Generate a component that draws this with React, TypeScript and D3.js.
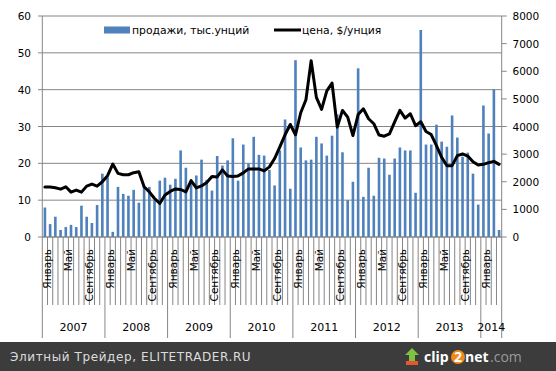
import React from "react";
import * as d3 from "d3";

const years = ["2007", "2008", "2009", "2010", "2011", "2012", "2013", "2014"];
const monthNames = ["Январь", "Февраль", "Март", "Апрель", "Май", "Июнь", "Июль", "Август", "Сентябрь", "Октябрь", "Ноябрь", "Декабрь"];
const shownMonths = ["Январь", "Май", "Сентябрь"];

// Sales, thousand ounces (left axis), Jan 2007 .. Apr 2014
const sales = [
  8.0, 3.5, 5.5, 1.9, 2.7, 3.3, 2.7, 8.5, 5.5, 3.8, 8.7, 17.2,
  16.2, 1.4, 13.6, 11.7, 11.2, 12.8, 9.3, 13.6, 13.6, 10.0, 15.3, 16.1,
  14.2, 15.8, 23.5, 18.8, 15.0, 16.7, 21.0, 15.5, 12.6, 22.0, 19.4, 20.8,
  26.8, 15.3, 25.1, 20.0, 27.2, 22.3, 22.1, 18.2, 14.0, 23.5, 31.9, 13.1,
  48.0, 24.3, 20.8, 21.0, 27.2, 25.4, 22.1, 27.5, 33.3, 23.0, 10.0, 15.0,
  45.8, 10.9, 18.8, 11.2, 21.5, 21.3, 16.9, 21.3, 24.3, 23.5, 23.5, 12.0,
  56.2, 25.1, 25.1, 30.5, 25.9, 24.5, 33.0, 27.0, 21.8, 22.9, 17.2, 8.8,
  35.7, 28.1, 40.1, 1.9,
];

// Price, $/ounce (right axis)
const price = [
  1806, 1806, 1782, 1733, 1818, 1624, 1697, 1624, 1842, 1915, 1842, 2000,
  2218, 2642, 2303, 2254, 2254, 2327, 2363, 1818, 1636, 1394, 1215, 1520,
  1650, 1740, 1720, 1630, 2040, 1777, 1850, 1970, 2188, 2176, 2430, 2212,
  2188, 2212, 2321, 2466, 2466, 2466, 2394, 2539, 2841, 3264, 3700, 4074,
  3700, 4497, 4968, 6383, 5053, 4620, 5290, 5576, 3976, 4582, 4339, 3673,
  4430, 4642, 4280, 4100, 3690, 3648, 3733, 4170, 4582, 4303, 4461, 4030,
  4170, 3818, 3709, 3310, 2885, 2582, 2582, 2946, 3006, 2930, 2727, 2606,
  2630, 2691, 2739, 2630,
];

const leftTicks = [0, 10, 20, 30, 40, 50, 60];
const rightTicks = [0, 1000, 2000, 3000, 4000, 5000, 6000, 7000, 8000];
const legendLabels = ["продажи, тыс.унций", "цена, $/унция"];

const W = 556;
const H = 371;
const FONT = "'DejaVu Sans', Verdana, sans-serif";

export default function App() {
  const n = sales.length;
  const idx = d3.range(n);
  const x0 = 42.3;
  const x1 = 501.7;
  const x = d3.scaleBand<number>().domain(idx).range([x0, x1]).paddingInner(0.5).paddingOuter(0.25);
  const step = x.step();
  const yL = d3.scaleLinear().domain([0, 60]).range([237, 16]);
  const yR = d3.scaleLinear().domain([0, 8000]).range([237, 16]);
  const cx = (i: number) => (x(i) as number) + x.bandwidth() / 2;
  const line = d3
    .line<number>()
    .x((_, i) => cx(i))
    .y((d) => yR(d));

  const boundary = (i: number) => x0 + i * step;
  const bottom = yL(0);

  return (
    <svg width={W} height={H} style={{ position: "absolute", left: 0, top: 0, background: "#fff" }} fontFamily={FONT}>
      <rect x={0} y={0} width={W} height={H} fill="#fff" />
      {/* gridlines */}
      {leftTicks.map((t) => (
        <line key={"g" + t} x1={38} x2={x1} y1={yL(t)} y2={yL(t)} stroke="#868686" strokeWidth={1} />
      ))}
      {/* left axis */}
      <line x1={x0} x2={x0} y1={yL(60)} y2={bottom} stroke="#868686" />
      {leftTicks.map((t) => (
        <text key={"l" + t} x={31} y={yL(t) + 4} textAnchor="end" fontSize={10.5} fill="#000">
          {t}
        </text>
      ))}
      {/* right axis */}
      <line x1={x1} x2={x1} y1={yR(8000)} y2={bottom} stroke="#868686" />
      {rightTicks.map((t) => (
        <g key={"r" + t}>
          <line x1={x1} x2={x1 + 5} y1={yR(t)} y2={yR(t)} stroke="#868686" />
          <text x={512.5} y={yR(t) + 4} fontSize={10.5} fill="#000">
            {t}
          </text>
        </g>
      ))}
      {/* bars */}
      {sales.map((v, i) => (
        <rect key={"b" + i} x={x(i)} y={yL(v)} width={x.bandwidth()} height={bottom - yL(v)} fill="#4f81bd" />
      ))}
      {/* price line */}
      <path d={line(price) || ""} fill="none" stroke="#000" strokeWidth={3} strokeLinejoin="round" strokeLinecap="round" />
      {/* category axis */}
      {d3.range(n + 1).map((i) => (
        <line
          key={"t" + i}
          x1={boundary(i)}
          x2={boundary(i)}
          y1={bottom}
          y2={i % 12 === 0 || i === n ? 338 : 305}
          stroke="#868686"
        />
      ))}
      {idx
        .filter((i) => shownMonths.includes(monthNames[i % 12]))
        .map((i) => (
          <text
            key={"m" + i}
            transform={`translate(${cx(i) + 2.5},${bottom + 12}) rotate(-90)`}
            textAnchor="end"
            dominantBaseline="central"
            fontSize={10.5}
            fill="#000"
          >
            {monthNames[i % 12]}
          </text>
        ))}
      {years.map((yr, k) => {
        const a = boundary(k * 12);
        const b = boundary(Math.min((k + 1) * 12, n));
        return (
          <text key={"y" + yr} x={(a + b) / 2} y={331} textAnchor="middle" fontSize={11} fill="#000">
            {yr}
          </text>
        );
      })}
      <line x1={x0} x2={x1} y1={bottom} y2={bottom} stroke="#868686" />
      {/* legend */}
      <rect x={104} y={26.5} width={26} height={7} fill="#4f81bd" />
      <text x={132} y={34} fontSize={10.8} fill="#000">
        {legendLabels[0]}
      </text>
      <line x1={274} x2={301} y1={30} y2={30} stroke="#000" strokeWidth={3} />
      <text x={302} y={34} fontSize={10.8} fill="#000">
        {legendLabels[1]}
      </text>
      {/* footer banner */}
      <rect x={0} y={342} width={W} height={H - 342} fill="#3c3c3c" />
      <text x={10} y={361} fontSize={12} fill="#dcdcdc" letterSpacing={0.6}>
        Элитный Трейдер, ELITETRADER.RU
      </text>
      <g fontFamily="'Open Sans', sans-serif" fontWeight="bold" fontSize={14}>
        <polygon points="412,348 419,355 415,355 415,361 409,361 409,355 405,355" fill="#7dc242" />
        <rect x={406} y={361} width={12} height={4} fill="#e8562a" />
        <text x={424} y={362} fill="#fff">clip</text>
        <circle cx={458} cy={357} r={7} fill="#f08a1c" />
        <text x={458} y={362} textAnchor="middle" fill="#fff">2</text>
        <text x={465} y={362} fill="#fff">net</text>
        <text x={490} y={362} fill="#9a9a9a" fontWeight="normal">.com</text>
      </g>
    </svg>
  );
}
